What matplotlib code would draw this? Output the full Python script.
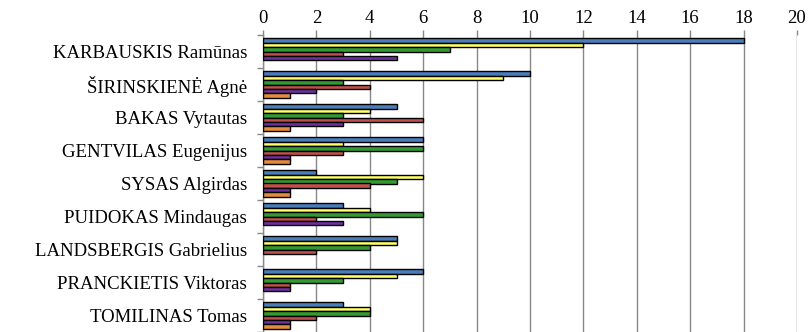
import numpy as np
import matplotlib
matplotlib.use("Agg")
import matplotlib.pyplot as plt

names = [
    "KARBAUSKIS Ramūnas",
    "ŠIRINSKIENĖ Agnė",
    "BAKAS Vytautas",
    "GENTVILAS Eugenijus",
    "SYSAS Algirdas",
    "PUIDOKAS Mindaugas",
    "LANDSBERGIS Gabrielius",
    "PRANCKIETIS Viktoras",
    "TOMILINAS Tomas",
]

# six series per person, drawn top to bottom inside each group
s_blue = [18, 10, 5, 6, 2, 3, 5, 6, 3]
s_yellow = [12, 9, 4, 3, 6, 4, 5, 5, 4]
s_green = [7, 3, 3, 6, 5, 6, 4, 3, 4]
s_red = [3, 4, 6, 3, 4, 2, 2, 1, 2]
s_purple = [5, 2, 3, 1, 1, 3, 0, 1, 1]
s_orange = [0, 1, 1, 1, 1, 0, 0, 0, 1]

series = [s_blue, s_yellow, s_green, s_red, s_purple, s_orange]
colors = ["#4A7EBB", "#FFFF66", "#339933", "#C0504D", "#7030A0", "#E68A3C"]

plt.rcParams["font.family"] = ["Liberation Serif", "DejaVu Serif"]

fig = plt.figure(figsize=(8.12, 3.32), dpi=100)
ax = fig.add_axes([263 / 812, 0.0, 534 / 812, 297 / 332])

n = len(series)
group = 0.8
h = group / n
y = np.arange(len(names))
for i, (vals, c) in enumerate(zip(series, colors)):
    vals = np.array(vals, dtype=float)
    pos = y - group / 2 + h * (i + 0.5)
    m = vals > 0
    ax.barh(pos[m], vals[m], height=h, color=c, edgecolor="black", linewidth=1.0, zorder=3)

ax.set_xlim(0, 20)
ax.set_ylim(len(names) - 0.5, -0.5)
ax.set_xticks(np.arange(0, 21, 2))
ax.xaxis.tick_top()
ax.tick_params(axis="x", colors="#888888", labelcolor="black", labelsize=13.5, length=3.6, width=1, pad=2)
ax.grid(axis="x", color="#888888", linewidth=1, zorder=0)

ax.set_yticks(y)
ax.set_yticklabels(names, fontsize=13.5)
ax.set_yticks(np.arange(len(names) + 1) - 0.5, minor=True)
ax.tick_params(axis="y", which="major", length=0, pad=11.5)
ax.tick_params(axis="y", which="minor", length=4.5, width=1, color="#888888")

for s in ["top", "right", "bottom"]:
    ax.spines[s].set_visible(False)
ax.spines["left"].set_color("#888888")
ax.spines["left"].set_linewidth(1)

fig.savefig("out.png", dpi=100)
